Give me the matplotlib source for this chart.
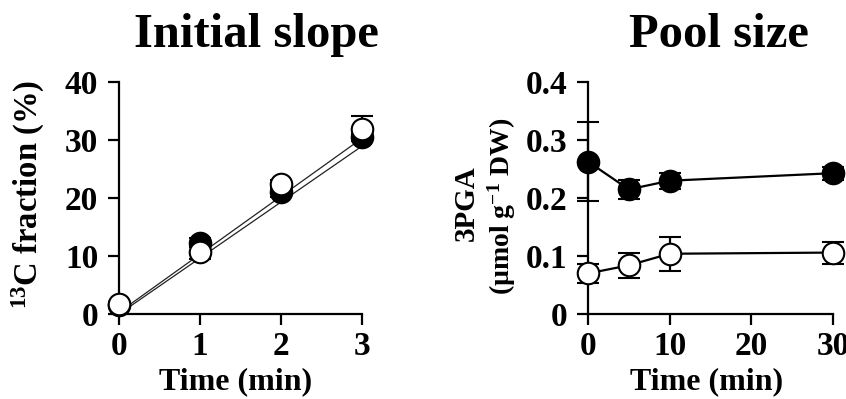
import numpy as np
import matplotlib
matplotlib.use("Agg")
import matplotlib.pyplot as plt

plt.rcParams["font.family"] = ["Liberation Serif", "DejaVu Serif"]
plt.rcParams["font.weight"] = "bold"
plt.rcParams["mathtext.fontset"] = "custom"
plt.rcParams["mathtext.rm"] = "Liberation Serif:bold"
plt.rcParams["mathtext.it"] = "Liberation Serif:bold"
plt.rcParams["mathtext.bf"] = "Liberation Serif:bold"

# ── Data: initial slope (13C fraction, %) ────────────────────────────────────
slope_time = [0, 1, 2, 3]
slope_filled = [1.5, 12.3, 21.0, 30.5]
slope_filled_err = [0.3, 0.8, 0.8, 0.6]
slope_open = [1.8, 10.7, 22.5, 32.0]
slope_open_err = [0.3, 1.2, 0.6, 2.2]
# linear fits (slope, intercept)
fit_filled = (10.0, 0.3)
fit_open = (9.65, 0.0)

# ── Data: pool size (3PGA, umol g-1 DW) ──────────────────────────────────────
pool_time = [0, 5, 10, 30]
pool_filled = [0.263, 0.215, 0.230, 0.243]
pool_filled_err = [0.068, 0.017, 0.014, 0.011]
pool_open = [0.070, 0.084, 0.104, 0.106]
pool_open_err = [0.017, 0.022, 0.029, 0.019]

fig = plt.figure(figsize=(8.46, 3.99), dpi=100)
ax1 = fig.add_axes([0.1407, 0.213, 0.287, 0.581])
ax2 = fig.add_axes([0.695, 0.213, 0.2896, 0.581])

for ax in (ax1, ax2):
    for s in ("top", "right"):
        ax.spines[s].set_visible(False)
    for s in ("left", "bottom"):
        ax.spines[s].set_linewidth(1.6)
    ax.tick_params(direction="out", length=8, width=1.6, labelsize=24)
    ax.tick_params(axis="x", pad=4)
    ax.tick_params(axis="y", pad=7)

ms = 15.5
ekw = dict(capsize=8, elinewidth=1.6, capthick=1.6, clip_on=False, zorder=3)

# ── Left panel ───────────────────────────────────────────────────────────────
xf = np.array([0, 3])
ax1.plot(xf, fit_filled[0] * xf + fit_filled[1], color="#222222", lw=0.9, zorder=2)
ax1.plot(xf, fit_open[0] * xf + fit_open[1], color="#222222", lw=0.9, zorder=2)
ax1.errorbar(slope_time, slope_filled, yerr=slope_filled_err, fmt="o", ms=ms,
             mfc="black", mec="black", mew=1.5, color="black", **ekw)
ax1.errorbar(slope_time, slope_open, yerr=slope_open_err, fmt="o", ms=ms,
             mfc="white", mec="black", mew=1.5, color="black", **ekw)
ax1.set_xlim(0, 3)
ax1.set_ylim(0, 40)
ax1.set_xticks([0, 1, 2, 3])
ax1.set_yticks([0, 10, 20, 30, 40])

# ── Right panel ──────────────────────────────────────────────────────────────
ax2.errorbar(pool_time, pool_filled, yerr=pool_filled_err, fmt="-o", ms=ms, lw=1.6,
             mfc="black", mec="black", mew=1.5, color="black", **ekw)
ax2.errorbar(pool_time, pool_open, yerr=pool_open_err, fmt="-o", ms=ms, lw=1.6,
             mfc="white", mec="black", mew=1.5, color="black", **ekw)
ax2.set_xlim(0, 30)
ax2.set_ylim(0, 0.4)
ax2.set_xticks([0, 10, 20, 30])
ax2.set_yticks([0, 0.1, 0.2, 0.3, 0.4])
ax2.set_yticklabels(["0", "0.1", "0.2", "0.3", "0.4"])

# ── Text ─────────────────────────────────────────────────────────────────────
fig.text(256 / 846, 1 - 35 / 399, "Initial slope", ha="center", va="center",
         fontsize=35, fontweight="bold")
fig.text(719 / 846, 1 - 35 / 399, "Pool size", ha="center", va="center",
         fontsize=35, fontweight="bold")
fig.text(236 / 846, 1 - 382 / 399, "Time (min)", ha="center", va="center",
         fontsize=23, fontweight="bold")
fig.text(707 / 846, 1 - 382 / 399, "Time (min)", ha="center", va="center",
         fontsize=23, fontweight="bold")
fig.text(28 / 846, 1 - 194 / 399, r"$^{13}$C fraction (%)", ha="center", va="center",
         rotation=90, fontsize=23.5, fontweight="bold")
fig.text(466 / 846, 1 - 203 / 399, "3PGA", ha="center", va="center",
         rotation=90, fontsize=21, fontweight="bold")
fig.text(502 / 846, 1 - 206 / 399, r"(µmol g$^{-1}$ DW)", ha="center", va="center",
         rotation=90, fontsize=20, fontweight="bold")

fig.savefig("out.png", dpi=100)
